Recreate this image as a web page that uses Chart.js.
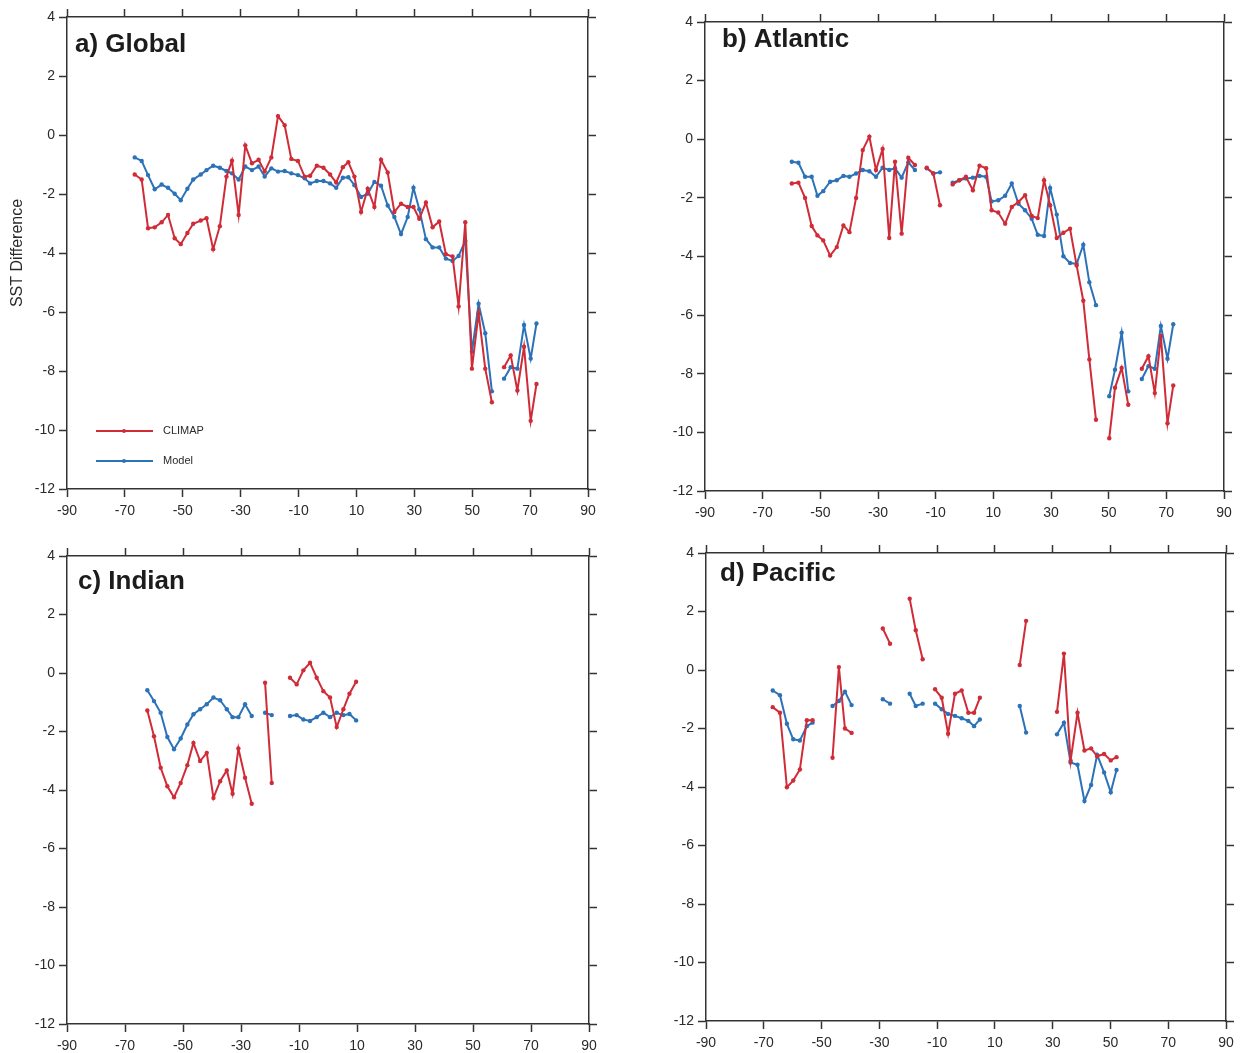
<!DOCTYPE html>
<html>
<head>
<meta charset="utf-8">
<title>SST Difference: CLIMAP vs Model</title>
<script src="https://cdn.jsdelivr.net/npm/chart.js@4.4.1/dist/chart.umd.min.js"></script>
<style>
  html, body { margin: 0; padding: 0; background: #fff; }
  #wrap { position: relative; width: 1241px; height: 1053px; }
  #wrap canvas { position: absolute; left: 0; top: 0; }
</style>
</head>
<body>
<div id="wrap">
  <canvas id="global" width="1241" height="1053"></canvas>
  <canvas id="atlantic" width="1241" height="1053"></canvas>
  <canvas id="indian" width="1241" height="1053"></canvas>
  <canvas id="pacific" width="1241" height="1053"></canvas>
</div>
<script>
  // latitude (deg) and SST difference, null = no value (gap in line)
  const latGlobal = [-66.6, -64.2, -62.0, -59.7, -57.3, -55.1, -52.8, -50.7, -48.4, -46.4, -43.8, -41.8,
    -39.5, -37.2, -34.9, -33.0, -30.7, -28.4, -26.1, -23.8, -21.7, -19.4, -17.1, -14.8, -12.5, -10.2,
    -7.9, -6.0, -3.7, -1.4, 0.9, 3.0, 5.3, 7.2, 9.3, 11.6, 13.9, 16.2, 18.5, 20.8, 23.1, 25.4, 27.7,
    29.7, 31.7, 34.0, 36.3, 38.6, 40.9, 43.2, 45.3, 47.6, 49.9, 52.2, 54.5, 56.8, 59.0, 61.0, 63.3,
    65.6, 67.9, 70.2, 72.2];
  const climapGlobal = [-1.34, -1.51, -3.16, -3.13, -2.96, -2.71, -3.50, -3.70, -3.32, -3.01, -2.90, -2.82,
    -3.87, -3.09, -1.41, -0.87, -2.71, -0.35, -0.96, -0.84, -1.24, -0.76, 0.64, 0.33, -0.81, -0.88,
    -1.41, -1.38, -1.04, -1.11, -1.34, -1.61, -1.09, -0.92, -1.41, -2.61, -1.82, -2.44, -0.84, -1.27,
    -2.61, -2.33, -2.44, -2.44, -2.84, -2.29, -3.13, -2.93, -4.04, -4.12, -5.81, -2.96, -7.92, -6.04,
    -7.92, -9.06, null, -7.87, -7.47, -8.66, -7.18, -9.69, -8.44];
  const modelGlobal = [-0.76, -0.88, -1.36, -1.84, -1.68, -1.79, -1.99, -2.21, -1.82, -1.51, -1.34, -1.19,
    -1.04, -1.11, -1.22, -1.30, -1.51, -1.07, -1.19, -1.07, -1.41, -1.13, -1.24, -1.22, -1.30, -1.36,
    -1.47, -1.64, -1.56, -1.56, -1.64, -1.79, -1.45, -1.43, -1.70, -2.10, -1.99, -1.59, -1.72, -2.39,
    -2.78, -3.36, -2.78, -1.79, -2.52, -3.53, -3.81, -3.81, -4.19, -4.27, -4.10, -3.59, -7.35, -5.72,
    -6.72, -8.69, null, -8.26, -7.87, -7.92, -6.44, -7.58, -6.39];

  const latAtlantic = [-59.9, -57.6, -55.3, -53.0, -51.0, -49.0, -46.6, -44.3, -42.0, -39.9, -37.6, -35.3,
    -33.0, -30.7, -28.4, -26.1, -24.1, -21.8, -19.5, -17.2, -15.1, -13.1, -10.8, -8.5, -6.3, -4.1, -1.8,
    0.5, 2.9, 5.2, 7.5, 9.4, 11.7, 14.1, 16.4, 18.7, 21.0, 23.3, 25.4, 27.6, 29.7, 32.0, 34.3, 36.6,
    38.9, 41.2, 43.3, 45.6, 47.9, 50.2, 52.2, 54.5, 56.8, 59.1, 61.5, 63.8, 66.0, 68.1, 70.4, 72.4];
  const climapAtlantic = [-1.51, -1.48, -2.00, -2.96, -3.28, -3.45, -3.97, -3.68, -2.94, -3.17, -2.00, -0.37,
    0.09, -1.05, -0.33, -3.37, -0.77, -3.22, -0.63, -0.88, null, -0.97, -1.17, -2.25, null, -1.54, -1.40,
    -1.28, -1.74, -0.90, -0.99, -2.42, -2.50, -2.88, -2.31, -2.14, -1.91, -2.62, -2.69, -1.40, -2.25,
    -3.37, -3.19, -3.05, -4.31, -5.51, -7.51, -9.57, null, -10.20, -8.48, -7.80, -9.06, null, -7.83,
    -7.40, -8.66, -6.71, -9.69, -8.40];
  const modelAtlantic = [-0.77, -0.80, -1.28, -1.28, -1.93, -1.77, -1.45, -1.40, -1.25, -1.28, -1.17, -1.05,
    -1.09, -1.28, -0.97, -1.05, -0.99, -1.31, -0.79, -1.05, null, -0.99, -1.17, -1.13, null, -1.48, -1.40,
    -1.34, -1.31, -1.25, -1.28, -2.12, -2.08, -1.93, -1.51, -2.20, -2.42, -2.71, -3.26, -3.30, -1.66,
    -2.57, -3.99, -4.22, -4.25, -3.60, -4.88, -5.66, null, -8.77, -7.86, -6.60, -8.60, null, -8.18,
    -7.74, -7.83, -6.37, -7.49, -6.31];

  const latIndian = [-62.3, -60.0, -57.7, -55.4, -53.1, -50.8, -48.5, -46.4, -44.1, -41.8, -39.5, -37.2,
    -34.9, -32.9, -30.9, -28.6, -26.3, -24.0, -21.7, -19.4, -16.0, -13.1, -10.8, -8.5, -6.2, -3.9, -1.6,
    0.7, 3.0, 5.3, 7.4, 9.7];
  const climapIndian = [-1.28, -2.16, -3.24, -3.87, -4.25, -3.76, -3.15, -2.39, -3.01, -2.73, -4.27, -3.70,
    -3.33, -4.13, -2.58, -3.58, -4.47, null, -0.33, -3.76, null, -0.16, -0.39, 0.09, 0.35, -0.16, -0.62,
    -0.84, -1.85, -1.24, -0.71, -0.30];
  const modelIndian = [-0.59, -0.96, -1.36, -2.19, -2.61, -2.24, -1.76, -1.41, -1.24, -1.07, -0.84, -0.93,
    -1.24, -1.51, -1.51, -1.07, -1.47, null, -1.36, -1.44, null, -1.47, -1.44, -1.59, -1.64, -1.51, -1.36,
    -1.51, -1.36, -1.44, -1.40, -1.62];

  const latPacific = [-66.9, -64.4, -62.0, -59.8, -57.5, -55.1, -53.1, -50.0, -46.2, -44.0, -41.9, -39.6,
    -34.0, -28.8, -26.3, -23.0, -19.5, -17.4, -15.0, -12.8, -10.7, -8.4, -6.2, -3.8, -1.5, 0.8, 2.8, 4.8,
    12.0, 18.6, 20.8, 26.0, 31.5, 33.9, 36.2, 38.6, 41.0, 43.3, 45.4, 47.8, 50.1, 52.1];
  const climapPacific = [-1.27, -1.46, -4.01, -3.78, -3.40, -1.72, -1.72, null, -3.00, 0.10, -2.00, -2.15,
    null, 1.42, 0.90, null, 2.44, 1.36, 0.37, null, -0.66, -0.95, -2.18, -0.81, -0.70, -1.46, -1.46, -0.95,
    null, 0.17, 1.68, null, -1.43, 0.56, -3.10, -1.46, -2.75, -2.68, -2.95, -2.87, -3.09, -2.98];
  const modelPacific = [-0.70, -0.86, -1.84, -2.37, -2.41, -1.92, -1.80, null, -1.23, -1.06, -0.74, -1.20,
    null, -1.00, -1.15, null, -0.81, -1.23, -1.15, null, -1.15, -1.34, -1.50, -1.57, -1.65, -1.74, -1.92, -1.69,
    null, -1.23, -2.14, null, -2.20, -1.80, -3.16, -3.24, -4.48, -3.93, -2.90, -3.50, -4.18, -3.42];

  const xTicks = { min: -90, max: 90, step: 20 };
  const yTicks = { min: -12, max: 4, step: 2 };

  const RED = "rgb(208,44,56)";
  const BLUE = "rgb(44,114,184)";
  const INK = "#2a2a2a";
  const FONT = '"Liberation Sans", Arial, Helvetica, sans-serif';
  const PAGE_W = 1241, PAGE_H = 1053;

  // panel title + (optional) legend drawn inside the plot box
  const panelText = {
    id: "panelText",
    afterDraw(chart, args, o) {
      const { ctx, chartArea } = chart;
      ctx.save();
      ctx.fillStyle = "#1c1c1c";
      ctx.font = "bold 26px " + FONT;
      ctx.textBaseline = "alphabetic";
      ctx.fillText(o.text, chartArea.left + o.dx, chartArea.top + o.dy);
      if (o.legend) {
        chart.data.datasets.forEach((ds, i) => {
          const y = chartArea.top + 414 + i * 30;
          const x0 = chartArea.left + 29;
          ctx.strokeStyle = ds.borderColor;
          ctx.lineWidth = 1.8;
          ctx.beginPath();
          ctx.moveTo(x0, y);
          ctx.lineTo(x0 + 57, y);
          ctx.stroke();
          ctx.fillStyle = ds.borderColor;
          ctx.beginPath();
          ctx.arc(x0 + 28, y, 2, 0, Math.PI * 2);
          ctx.fill();
          ctx.fillStyle = INK;
          ctx.font = "11px " + FONT;
          ctx.textBaseline = "middle";
          ctx.fillText(ds.label, x0 + 67, y);
        });
      }
      ctx.restore();
    },
  };

  function points(lats, vals) {
    return lats.map((lat, i) => ({ x: lat, y: vals[i] }));
  }

  function axis(position, t, showLabels, fit, title) {
    return {
      type: "linear",
      position: position,
      min: t.min,
      max: t.max,
      ticks: {
        stepSize: t.step,
        display: showLabels,
        color: INK,
        font: { family: FONT, size: 14 },
        padding: position === "bottom" ? 6 : 4,
      },
      grid: {
        drawOnChartArea: false,
        drawTicks: true,
        tickLength: 8,
        tickWidth: 1.5,
        tickColor: "#333",
      },
      border: { display: true, color: "#333", width: 1.5 },
      title: title || { display: false },
      afterFit: fit,
    };
  }

  function makePanel(id, box, title, lats, climap, model, withAxisTitle) {
    // box = plot box edges on the page: left, top, right, bottom
    const [L, T, R, B] = box;
    const line = (label, color, vals) => ({
      label: label,
      data: points(lats, vals),
      borderColor: color,
      backgroundColor: color,
      borderWidth: 2,
      pointRadius: 2.2,
      pointBorderWidth: 0,
      pointBackgroundColor: color,
      tension: 0,
      spanGaps: false,
    });
    const yTitle = withAxisTitle
      ? { display: true, text: "SST Difference", color: INK, font: { family: FONT, size: 16 }, padding: { top: 8, bottom: 4 } }
      : null;
    return new Chart(document.getElementById(id), {
      type: "line",
      data: {
        datasets: [line("CLIMAP", RED, climap), line("Model", BLUE, model)],
      },
      options: {
        responsive: false,
        animation: false,
        devicePixelRatio: 1,
        layout: { padding: 0 },
        plugins: {
          legend: { display: false },
          tooltip: { enabled: false },
          panelText: title,
        },
        scales: {
          x: axis("bottom", xTicks, true, (s) => { s.height = PAGE_H - B; }),
          x2: axis("top", xTicks, false, (s) => { s.height = T; }),
          y: axis("left", yTicks, true, (s) => { s.width = L; }, yTitle),
          y2: axis("right", yTicks, false, (s) => { s.width = PAGE_W - R; }),
        },
      },
      plugins: [panelText],
    });
  }

  makePanel("global", [67, 17, 588, 489], { text: "a) Global", dx: 8, dy: 35, legend: true },
    latGlobal, climapGlobal, modelGlobal, true);
  makePanel("atlantic", [705, 22, 1224, 491], { text: "b) Atlantic", dx: 17, dy: 25 },
    latAtlantic, climapAtlantic, modelAtlantic, false);
  makePanel("indian", [67, 556, 589, 1024], { text: "c) Indian", dx: 11, dy: 33 },
    latIndian, climapIndian, modelIndian, false);
  makePanel("pacific", [706, 553, 1226, 1021], { text: "d) Pacific", dx: 14, dy: 28 },
    latPacific, climapPacific, modelPacific, false);
</script>
</body>
</html>
